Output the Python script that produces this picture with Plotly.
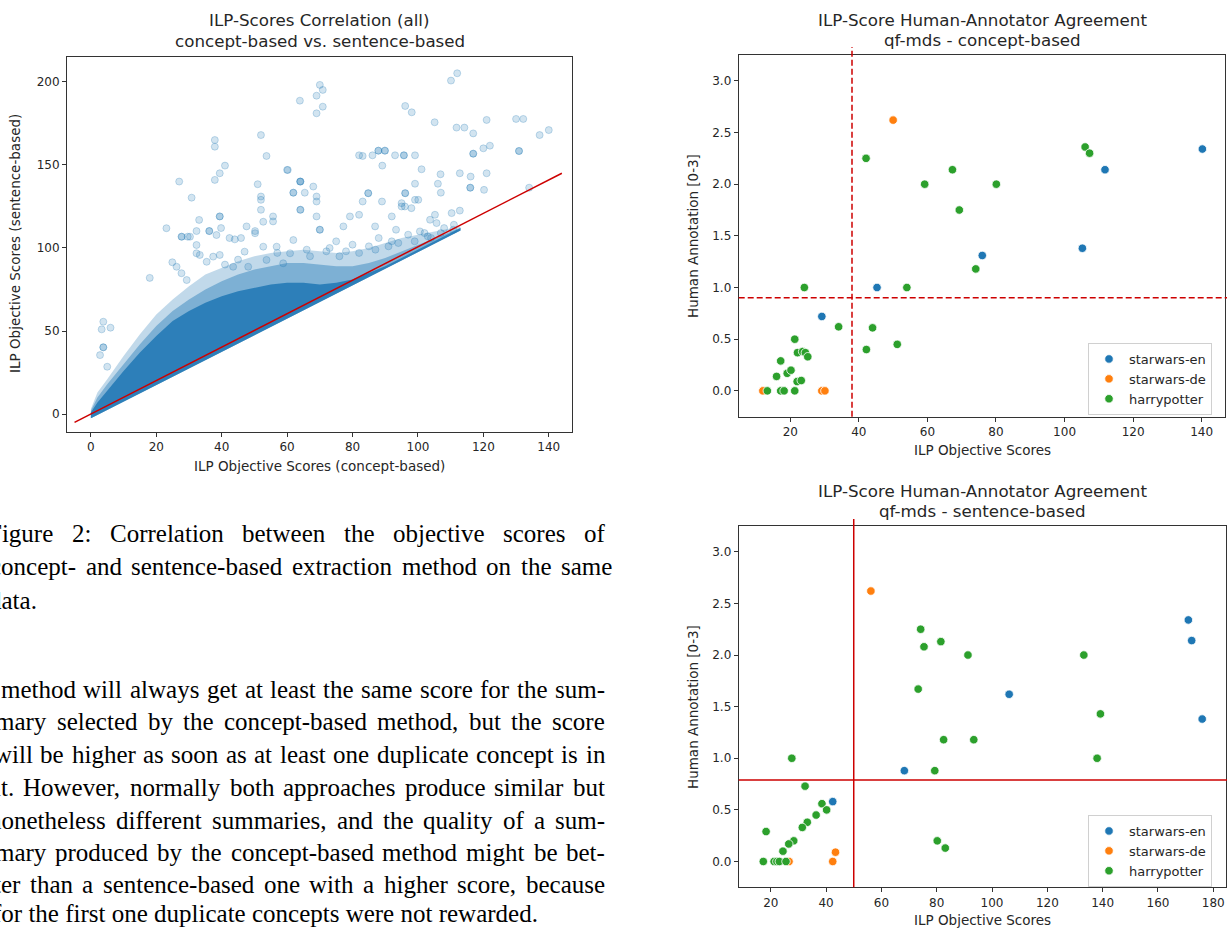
import plotly.graph_objects as go

W, H = 1227, 930

# ---------------- data: left panel (concept-based vs sentence-based ILP scores) ----------------
# sparse / outlying points (repeated values = overlapping, darker circles)
corr_x = [63.9, 37.9, 37.9, 52.0, 53.7, 41.0, 39.4, 37.9, 27.0, 30.8, 51.0, 52.0, 52.0, 52.0, 60.0, 61.9,
          64.0, 64.0, 64.0, 33.1, 39.4, 39.4, 55.7, 55.7, 52.7, 23.1, 32.3, 36.2, 36.2, 39.8, 47.6, 50.2,
          27.8, 29.6, 42.4, 45.9,
          70.0, 70.9, 69.0, 70.9, 69.0,
          110.1, 112.0, 96.1, 98.1, 105.1, 111.8, 114.2, 121.0, 130.0, 132.2, 116.9, 137.2, 140.0, 120.0,
          122.0, 116.9, 116.9, 130.9, 130.9,
          82.0, 83.1, 86.1, 87.9, 87.9, 89.9, 89.9, 93.0, 95.7, 95.7, 99.1,
          89.1, 101.1, 106.9, 112.8, 116.1, 121.0, 106.1, 107.0, 99.1, 116.0, 116.0, 120.2, 134.0,
          64.1, 65.4, 61.9, 68.0, 69.0, 69.0, 60.2,
          84.8, 84.8, 83.1, 89.0, 96.1, 96.1, 99.1, 100.1, 96.0, 95.0, 98.0,
          64.1, 69.0, 70.0, 70.0, 77.2, 79.2, 82.0, 92.0, 95.0, 103.7, 105.2, 110.3, 112.8, 86.9, 93.3,
          100.6, 105.7, 110.8,
          3.8, 3.3, 6.0, 3.8, 3.8, 2.8, 5.0, 18.0, 24.9, 26.2, 27.7, 30.3, 32.3, 33.3, 39.4, 44.0, 47.0,
          50.2, 75.0, 80.0, 88.0, 92.0, 97.0, 102.0, 104.0, 108.0, 111.0, 73.0, 78.0, 85.0,
          27.7, 29.3, 32.3, 35.4, 37.4, 38.4, 43.5, 48.1, 52.7, 53.7, 56.8, 58.8, 61.9, 60.9,
          66.0, 72.0, 76.0, 82.0, 87.0, 91.0, 94.0, 99.0, 103.0, 107.0, 45.0, 41.0, 57.0, 67.0]
corr_y = [188.7, 165.0, 161.0, 168.0, 155.4, 149.6, 145.0, 141.0, 140.0, 130.3, 138.4, 131.0, 129.0, 123.0, 147.0, 133.3,
          140.0, 140.0, 123.0, 116.9, 119.0, 119.0, 119.0, 116.0, 115.8, 111.9, 110.2, 110.2, 110.2, 112.0, 113.0, 110.2,
          106.8, 106.8, 106.0, 106.0,
          198.2, 195.2, 191.7, 185.1, 181.1,
          200.8, 205.2, 185.5, 181.7, 175.7, 172.5, 172.5, 177.1, 177.7, 177.7, 169.0, 168.0, 171.0, 160.0,
          161.6, 156.8, 156.8, 158.4, 158.4,
          155.8, 155.4, 155.8, 158.6, 158.6, 158.6, 158.6, 155.8, 155.8, 155.8, 155.8,
          149.6, 147.4, 144.4, 145.0, 143.0, 145.0, 138.7, 133.3, 138.7, 136.3, 136.3, 135.0, 136.3,
          140.0, 133.3, 133.3, 137.0, 131.0, 128.0, 147.0,
          133.0, 133.0, 128.0, 128.0, 133.0, 133.0, 129.0, 129.0, 125.0, 127.0, 124.0,
          123.0, 119.0, 111.0, 111.0, 113.0, 119.0, 120.0, 119.0, 125.0, 117.0, 120.0, 121.0, 122.5, 113.0, 111.0,
          110.0, 115.0, 111.0,
          55.6, 51.0, 52.0, 40.2, 40.2, 35.5, 28.5, 82.0, 91.4, 88.7, 106.8, 106.8, 101.8, 95.8, 95.8, 105.2, 97.8,
          108.9, 104.0, 102.0, 106.0, 104.0, 108.0, 109.0, 106.0, 112.0, 114.0, 100.0, 98.0, 101.0,
          84.8, 80.7, 96.8, 91.7, 94.8, 107.8, 88.7, 88.7, 100.8, 92.8, 100.8, 90.8, 104.8, 96.8,
          99.0, 98.0, 95.0, 97.0, 99.0, 101.0, 103.0, 104.0, 107.0, 109.0, 93.0, 90.0, 97.0, 95.0]

# envelopes of the dense part of the cloud
env_x       = [0, 2, 5, 10, 15, 20, 25, 30, 35, 40, 45, 50, 55, 60, 65, 70, 75, 80, 85, 90, 95, 100, 105, 110, 113]
env_low_y   = [-2.5, -0.5, 2.5, 7.5, 12.5, 17.5, 22.5, 27.5, 32.5, 37.5, 42.5, 47.5, 52.5, 57.5, 62.5, 67.5,
               72.5, 77.5, 82.5, 87.5, 92.5, 97.5, 102.5, 107.5, 110.5]
env_light_y = [3, 13, 21, 35, 48, 60, 69, 77, 84, 88, 92, 95, 97, 98, 99, 98, 97, 98, 100, 103, 106,
               108, 110, 112, 113]
env_mid_y   = [2, 10, 18, 30, 42, 53, 62, 69, 75, 80, 84, 87, 89, 91, 91, 90, 89, 89, 91, 94, 98, 102, 106,
               110, 112]
env_core_y  = [1, 7, 14, 26, 37, 47, 56, 62, 67, 71, 74, 76, 78, 79, 79, 78, 79, 81, 85, 89, 94, 99, 104,
               109, 112]

diag_x = [-5, 144]
diag_y = [-5, 145]

# ---------------- data: right panels (human annotation vs ILP score) ----------------
concept_en_x = [140.2, 111.8, 105.2, 76.0, 45.3, 29.2]
concept_en_y = [2.34, 2.14, 1.38, 1.31, 1.0, 0.72]
concept_de_x = [50.0, 12.0, 29.2, 30.1]
concept_de_y = [2.62, 0.0, 0.0, 0.0]
concept_hp_x = [42.1, 59.2, 67.3, 69.3, 80.1, 106.0, 107.3, 74.1, 24.1, 54.0, 34.1, 44.0, 42.2, 51.2, 21.3,
                22.1, 23.6, 24.4, 25.1, 17.2, 16.0, 19.1, 20.2, 22.0, 23.2, 13.3, 17.2, 18.2, 21.3]
concept_hp_y = [2.25, 2.0, 2.14, 1.75, 2.0, 2.36, 2.30, 1.18, 1.0, 1.0, 0.62, 0.61, 0.40, 0.45, 0.50,
                0.37, 0.38, 0.37, 0.33, 0.29, 0.14, 0.17, 0.20, 0.09, 0.10, 0.0, 0.0, 0.0, 0.0]
concept_thr = (38, 0.9)

sent_en_x = [171.0, 172.2, 106.2, 176.0, 68.3, 42.4]
sent_en_y = [2.34, 2.14, 1.62, 1.38, 0.88, 0.58]
sent_de_x = [56.2, 43.4, 42.4, 26.6]
sent_de_y = [2.62, 0.09, 0.0, 0.0]
sent_hp_x = [74.2, 75.4, 81.5, 73.3, 91.3, 133.2, 139.2, 138.0, 82.5, 93.4, 79.3, 27.6, 32.4, 38.5, 40.2,
             36.4, 33.2, 31.4, 28.3, 26.5, 24.4, 18.3, 80.2, 83.1, 17.3, 21.2, 22.2, 23.1, 25.5]
sent_hp_y = [2.25, 2.08, 2.13, 1.67, 2.0, 2.0, 1.43, 1.0, 1.18, 1.18, 0.88, 1.0, 0.73, 0.56, 0.50,
             0.45, 0.38, 0.33, 0.20, 0.17, 0.10, 0.29, 0.20, 0.13, 0.0, 0.0, 0.0, 0.0, 0.0]
sent_thr = (50, 0.79)

series_names = ["starwars-en", "starwars-de", "harrypotter"]
series_colors = ["#1f77b4", "#ff7f0e", "#2ca02c"]

left_ticks = [0, 20, 40, 60, 80, 100, 120, 140]
left_yticks = [0, 50, 100, 150, 200]
top_xticks = [20, 40, 60, 80, 100, 120, 140]
bot_xticks = [20, 40, 60, 80, 100, 120, 140, 160, 180]
ann_ticks = [0.0, 0.5, 1.0, 1.5, 2.0, 2.5, 3.0]

# paper text (justified lines, then paragraph-final lines)
caption_lines = ["Figure 2: Correlation between the objective scores of",
                 "concept- and sentence-based extraction method on the same"]
caption_last = "data."
body_lines = ["method will always get at least the same score for the sum-",
              "mary selected by the concept-based method, but the score",
              "will be higher as soon as at least one duplicate concept is in",
              "it. However, normally both approaches produce similar but",
              "nonetheless different summaries, and the quality of a sum-",
              "mary produced by the concept-based method might be bet-",
              "ter than a sentence-based one with a higher score, because"]
body_last = "for the first one duplicate concepts were not rewarded."

# ---------------- figure ----------------
fig = go.Figure()

def band(upper, alpha):
    xs = list(env_x) + list(reversed(env_x))
    ys = list(upper) + list(reversed(env_low_y))
    fig.add_trace(go.Scatter(x=xs, y=ys, mode="lines", fill="toself", line=dict(width=0),
                             fillcolor=f"rgba(31,119,180,{alpha})", hoverinfo="skip",
                             showlegend=False, xaxis="x", yaxis="y"))

band(env_light_y, 0.28)
band(env_mid_y, 0.42)
band(env_core_y, 0.85)

fig.add_trace(go.Scatter(x=corr_x, y=corr_y, mode="markers", showlegend=False, xaxis="x", yaxis="y",
                         marker=dict(size=7, color="rgba(31,119,180,0.2)",
                                     line=dict(color="rgba(31,119,180,0.25)", width=1))))
fig.add_trace(go.Scatter(x=diag_x, y=diag_y, mode="lines", showlegend=False, xaxis="x", yaxis="y",
                         line=dict(color="rgb(205,0,0)", width=1.5)))

panels = [
    ("x2", "y2", "legend", [(concept_en_x, concept_en_y), (concept_de_x, concept_de_y), (concept_hp_x, concept_hp_y)]),
    ("x3", "y3", "legend2", [(sent_en_x, sent_en_y), (sent_de_x, sent_de_y), (sent_hp_x, sent_hp_y)]),
]
for xa, ya, lg, groups in panels:
    for name, col, (gx, gy) in zip(series_names, series_colors, groups):
        fig.add_trace(go.Scatter(x=gx, y=gy, mode="markers", name=name, xaxis=xa, yaxis=ya, legend=lg,
                                 marker=dict(size=8.5, color=col, line=dict(color="white", width=0.8))))

axis_common = dict(showline=True, mirror=True, linecolor="#333", linewidth=1, ticks="outside",
                   ticklen=4, tickwidth=1, tickcolor="#333", showgrid=False, zeroline=False,
                   tickfont=dict(family="DejaVu Sans", size=12, color="#262626"))

legend_common = dict(xanchor="left", yanchor="top", bgcolor="rgba(255,255,255,0.85)",
                     bordercolor="#d0d0d0", borderwidth=1, font=dict(family="DejaVu Sans", size=13, color="#262626"),
                     tracegroupgap=0, itemwidth=30)

fig.update_layout(
    width=W, height=H, margin=dict(l=0, r=0, t=0, b=0),
    paper_bgcolor="white", plot_bgcolor="white",
    font=dict(family="DejaVu Sans", size=12, color="#262626"),
    xaxis=dict(domain=[67 / W, 572 / W], range=[-7.3, 147.1], tickvals=left_ticks, anchor="y", **axis_common),
    yaxis=dict(domain=[1 - 432 / H, 1 - 57 / H], range=[-10.8, 215], tickvals=left_yticks, anchor="x", **axis_common),
    xaxis2=dict(domain=[738.7 / W, 1225 / W], range=[4.95, 146.8], tickvals=top_xticks, anchor="y2", **axis_common),
    yaxis2=dict(domain=[1 - 416.7 / H, 1 - 55 / H], range=[-0.25, 3.25], tickvals=ann_ticks,
                tickformat=".1f", anchor="x2", **axis_common),
    xaxis3=dict(domain=[738.7 / W, 1225.7 / W], range=[8.4, 184.5], tickvals=bot_xticks, anchor="y3", **axis_common),
    yaxis3=dict(domain=[1 - 887.3 / H, 1 - 526 / H], range=[-0.25, 3.25], tickvals=ann_ticks,
                tickformat=".1f", anchor="x3", **axis_common),
    legend=dict(x=1088 / W, y=1 - 343 / H, **legend_common),
    legend2=dict(x=1088 / W, y=1 - 815 / H, **legend_common),
)

red = "rgb(205,0,0)"
fig.add_shape(type="line", xref="x2", yref="paper", x0=concept_thr[0], x1=concept_thr[0],
              y0=1 - 416.7 / H, y1=1 - 47 / H, line=dict(color=red, width=1.5, dash="6px,3px"))
fig.add_shape(type="line", xref="paper", yref="y2", x0=738.7 / W, x1=1.0, y0=concept_thr[1], y1=concept_thr[1],
              line=dict(color=red, width=1.5, dash="6px,3px"))
fig.add_shape(type="line", xref="x3", yref="paper", x0=sent_thr[0], x1=sent_thr[0],
              y0=1 - 887.3 / H, y1=1 - 519 / H, line=dict(color=red, width=1.5))
fig.add_shape(type="line", xref="paper", yref="y3", x0=738.7 / W, x1=1.0, y0=sent_thr[1], y1=sent_thr[1],
              line=dict(color=red, width=1.5))

def txt(text, x, y, size=12, anchor="center", angle=0, family="DejaVu Sans", color="#262626"):
    fig.add_annotation(text=text, x=x / W, y=1 - y / H, xref="paper", yref="paper", showarrow=False,
                       xanchor=anchor, yanchor="middle", textangle=angle, borderpad=0,
                       font=dict(family=family, size=size, color=color))

# titles
TS = 16.7
txt("ILP-Scores Correlation (all)", 319.5, 20, TS)
txt("concept-based vs. sentence-based", 319.5, 41, TS)
txt("ILP-Score Human-Annotator Agreement", 982, 20, TS)
txt("qf-mds - concept-based", 982, 40, TS)
txt("ILP-Score Human-Annotator Agreement", 982, 491, TS)
txt("qf-mds - sentence-based", 982, 511, TS)
# axis titles
LS = 13.5
txt("ILP Objective Scores (concept-based)", 319.5, 466, LS)
txt("ILP Objective Scores (sentence-based)", 15, 244, LS, angle=-90)
txt("ILP Objective Scores", 982, 450, LS)
txt("Human Annotation [0-3]", 693, 236, LS, angle=-90)
txt("ILP Objective Scores", 982, 920, LS)
txt("Human Annotation [0-3]", 693, 707, LS, angle=-90)

# ---- justified serif text (Times metrics; Liberation Serif is metric compatible) ----
TIMES = {' ': 250, 'a': 444, 'b': 500, 'c': 444, 'd': 500, 'e': 444, 'f': 333, 'g': 500, 'h': 500,
         'i': 278, 'j': 278, 'k': 500, 'l': 278, 'm': 778, 'n': 500, 'o': 500, 'p': 500, 'q': 500,
         'r': 333, 's': 389, 't': 278, 'u': 500, 'v': 500, 'w': 722, 'x': 500, 'y': 500, 'z': 444,
         'F': 556, 'C': 667, 'H': 722, '2': 500, ':': 278, '.': 250, ',': 250, '-': 333}
serif = "Liberation Serif"
FS = 25

def word_w(w):
    return sum(TIMES.get(ch, 500) for ch in w) * FS / 1000.0

def justified(line, left, right, y):
    words = line.split()
    widths = [word_w(w) for w in words]
    gap = (right - left - sum(widths)) / (len(words) - 1)
    pos = left
    for w, wd in zip(words, widths):
        txt(w, pos, y, FS, anchor="left", family=serif, color="black")
        pos += wd + gap

justified(caption_lines[0], -13, 604, 533)
justified(caption_lines[1], -11, 611, 566)
txt(caption_last, -12, 600, FS, anchor="left", family=serif, color="black")
body_y = [689, 721, 754, 787, 820, 852, 884]
body_left = [0, -6, -7, -7, -12, -6, -7]
for line, yy, lft in zip(body_lines, body_y, body_left):
    justified(line, lft, 604, yy)
txt(body_last, -8, 913, FS, anchor="left", family=serif, color="black")

fig.write_html("out.html", config={"displayModeBar": False},
               post_script="document.body.style.margin='0px';")
